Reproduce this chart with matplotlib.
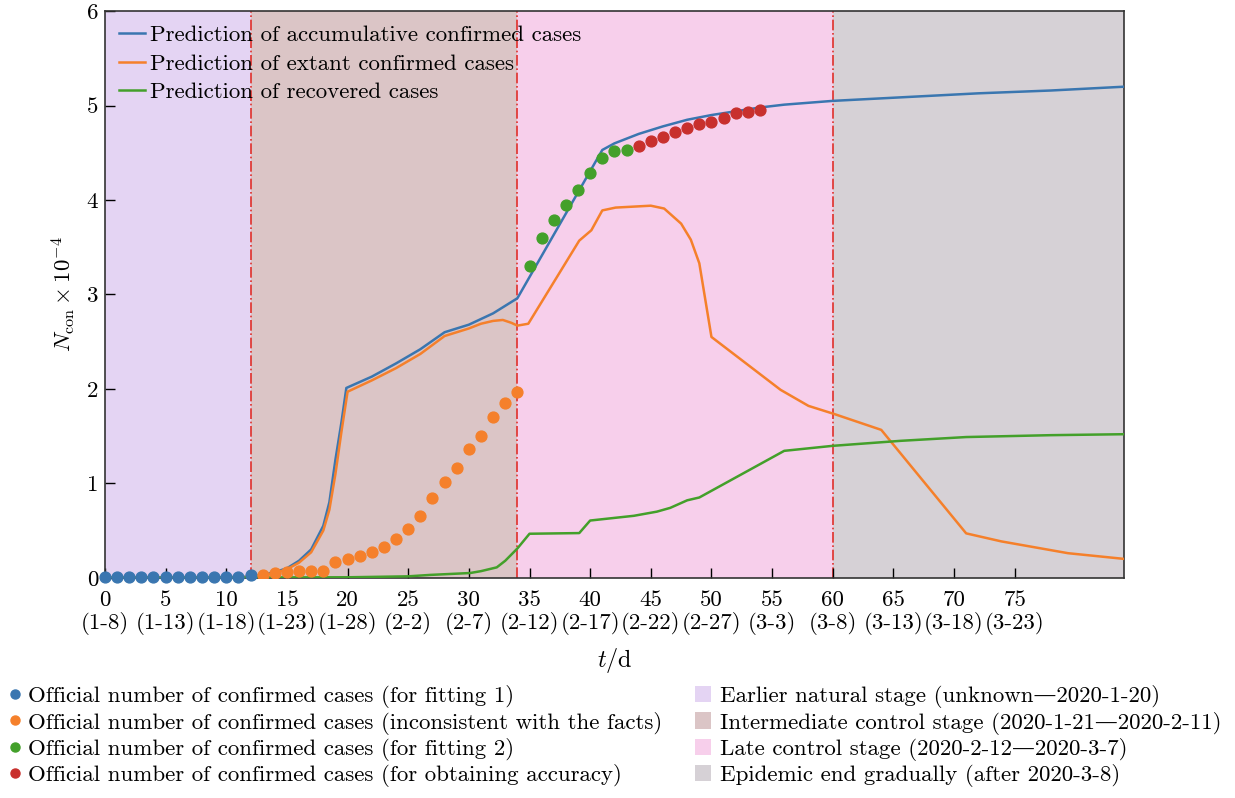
import matplotlib
matplotlib.use("Agg")
import matplotlib.pyplot as plt
from matplotlib.lines import Line2D
from matplotlib.patches import Patch
import numpy as np

plt.rcParams['font.family'] = ['cmr10', 'DejaVu Serif']
plt.rcParams['mathtext.fontset'] = 'cm'
plt.rcParams['axes.formatter.use_mathtext'] = True

# ---- data (units of 10^4 cases) ----
fit1_day = list(range(0, 13))
fit1_val = [0.004, 0.004, 0.004, 0.004, 0.004, 0.004, 0.004, 0.004, 0.004, 0.005,
            0.006, 0.012, 0.03]

bad_day = list(range(13, 35))
bad_val = [0.03, 0.05, 0.06, 0.067, 0.067, 0.074, 0.166, 0.20, 0.233, 0.27, 0.33,
           0.41, 0.52, 0.65, 0.84, 1.01, 1.16, 1.365, 1.50, 1.70, 1.85, 1.97]

fit2_day = list(range(35, 44))
fit2_val = [3.30, 3.60, 3.79, 3.95, 4.11, 4.29, 4.45, 4.52, 4.53]

acc_day = list(range(44, 55))
acc_val = [4.57, 4.62, 4.67, 4.72, 4.76, 4.80, 4.83, 4.87, 4.92, 4.93, 4.95]

cum_t = [0, 10, 12, 13, 14, 15, 16, 17, 18, 18.5, 19, 19.5, 19.9, 22, 24, 26, 28,
         30, 32, 34, 41, 42, 44, 46, 48, 50, 52, 54, 56, 60, 66, 72, 78, 84]
cum_v = [0.0, 0.005, 0.01, 0.03, 0.06, 0.10, 0.18, 0.30, 0.55, 0.80, 1.25, 1.65, 2.01,
         2.13, 2.27, 2.42, 2.60, 2.68, 2.80, 2.96, 4.53, 4.60, 4.70, 4.78, 4.85,
         4.90, 4.94, 4.98, 5.01, 5.05, 5.09, 5.13, 5.16, 5.20]

ext_t = [0, 10, 12, 13, 14, 15, 16, 17, 18, 18.5, 19, 19.5, 20, 22, 24, 26, 28,
         29, 30, 31, 32, 32.8, 33.5, 34, 34.9, 39.1, 40.1, 41.0, 42.1, 45.0, 46.1,
         47.5, 48.3, 49.0, 50.0, 55.7, 58.0, 60.1, 64.0, 71.0, 73.9, 79.4, 84]
ext_v = [0.0, 0.005, 0.01, 0.02, 0.05, 0.09, 0.16, 0.27, 0.50, 0.72, 1.10, 1.55, 1.97,
         2.09, 2.22, 2.37, 2.56, 2.60, 2.64, 2.69, 2.72, 2.73, 2.70, 2.67, 2.69,
         3.57, 3.68, 3.89, 3.92, 3.94, 3.91, 3.75, 3.58, 3.33, 2.55, 1.99, 1.82,
         1.735, 1.566, 0.47, 0.385, 0.26, 0.20]

rec_t = [0, 20, 25, 26.8, 30.1, 31, 32.3, 33, 34, 35, 39.1, 40, 43.6, 45.5, 46.6,
         48, 49, 56, 60, 65.6, 71, 78, 84]
rec_v = [0.0, 0.005, 0.015, 0.03, 0.05, 0.07, 0.11, 0.18, 0.31, 0.466, 0.473, 0.606,
         0.656, 0.70, 0.74, 0.82, 0.85, 1.344, 1.397, 1.45, 1.49, 1.51, 1.52]

stage_edges = [0, 12, 34, 60, 84]
stage_colors = ['#e4d4f3', '#dbc5c6', '#f7cfeb', '#d6d1d6']
stage_labels = ['Earlier natural stage (unknown\u20142020-1-20)',
                'Intermediate control stage (2020-1-21\u20142020-2-11)',
                'Late control stage (2020-2-12\u20142020-3-7)',
                'Epidemic end gradually (after 2020-3-8)']

xticks = list(range(0, 80, 5))
xdates = ['1-8', '1-13', '1-18', '1-23', '1-28', '2-2', '2-7', '2-12', '2-17',
          '2-22', '2-27', '3-3', '3-8', '3-13', '3-18', '3-23']

c_blue = '#3a76b0'
c_orange = '#f5802b'
c_green = '#43a02a'
c_red = '#c8302d'

fig = plt.figure(figsize=(12.35, 7.98), dpi=100)
ax = fig.add_axes([0.085, 0.276, 0.825, 0.710])

for i in range(4):
    ax.axvspan(stage_edges[i], stage_edges[i + 1], color=stage_colors[i], lw=0, zorder=0)
for xv in stage_edges[1:4]:
    ax.axvline(xv, color='#e0302a', lw=1.2, ls='-.', zorder=1)

fs = 16.5
l1, = ax.plot(cum_t, cum_v, color=c_blue, lw=1.8, zorder=3)
l2, = ax.plot(ext_t, ext_v, color=c_orange, lw=1.8, zorder=3)
l3, = ax.plot(rec_t, rec_v, color=c_green, lw=1.8, zorder=3)

ms = 7.8
ax.plot(fit1_day, fit1_val, 'o', color=c_blue, ms=ms, zorder=4, clip_on=False)
ax.plot(bad_day, bad_val, 'o', color=c_orange, ms=ms, zorder=4)
ax.plot(fit2_day, fit2_val, 'o', color=c_green, ms=ms, zorder=4)
ax.plot(acc_day, acc_val, 'o', color=c_red, ms=ms, zorder=4)

ax.set_xlim(0, 84)
ax.set_ylim(0, 6)
ax.set_xticks(xticks)
ax.set_xticklabels([f'{t}\n({d})' for t, d in zip(xticks, xdates)], fontsize=fs,
                   linespacing=1.15)
ax.set_yticks(range(0, 7))
ax.set_yticklabels([str(v) for v in range(0, 7)], fontsize=fs)
ax.tick_params(direction='in', length=7, width=1.0)
ax.tick_params(axis='x', pad=9)
ax.tick_params(axis='y', pad=5)
for s in ax.spines.values():
    s.set_linewidth(1.2)
    s.set_color('#333333')

ax.set_xlabel(r'$t/\mathrm{d}$', fontsize=fs + 1, labelpad=8)
ax.set_ylabel(r'$N_{\rm con}\times 10^{-4}$', fontsize=fs, labelpad=6)

ax.legend([l1, l2, l3],
          ['Prediction of accumulative confirmed cases',
           'Prediction of extant confirmed cases',
           'Prediction of recovered cases'],
          loc='upper left', frameon=False, fontsize=fs, handlelength=1.15,
          handletextpad=0.2, labelspacing=0.38, borderaxespad=0.2,
          bbox_to_anchor=(0.0, 1.0))

dot_handles = [Line2D([], [], ls='none', marker='o', ms=6.5, color=c)
               for c in [c_blue, c_orange, c_green, c_red]]
dot_labels = ['Official number of confirmed cases (for fitting 1)',
              'Official number of confirmed cases (inconsistent with the facts)',
              'Official number of confirmed cases (for fitting 2)',
              'Official number of confirmed cases (for obtaining accuracy)']
fig.legend(dot_handles, dot_labels, loc='upper left', bbox_to_anchor=(0.0, 0.153),
           frameon=False, fontsize=fs, handlelength=0.5, handletextpad=0.3,
           labelspacing=0.15, borderaxespad=0.0)

patch_handles = [Patch(color=c, lw=0) for c in stage_colors]
fig.legend(patch_handles, stage_labels, loc='upper left', bbox_to_anchor=(0.555, 0.153),
           frameon=False, fontsize=fs, handlelength=0.7, handleheight=0.7,
           handletextpad=0.4, labelspacing=0.15, borderaxespad=0.0)

fig.savefig('out.png', dpi=100)
